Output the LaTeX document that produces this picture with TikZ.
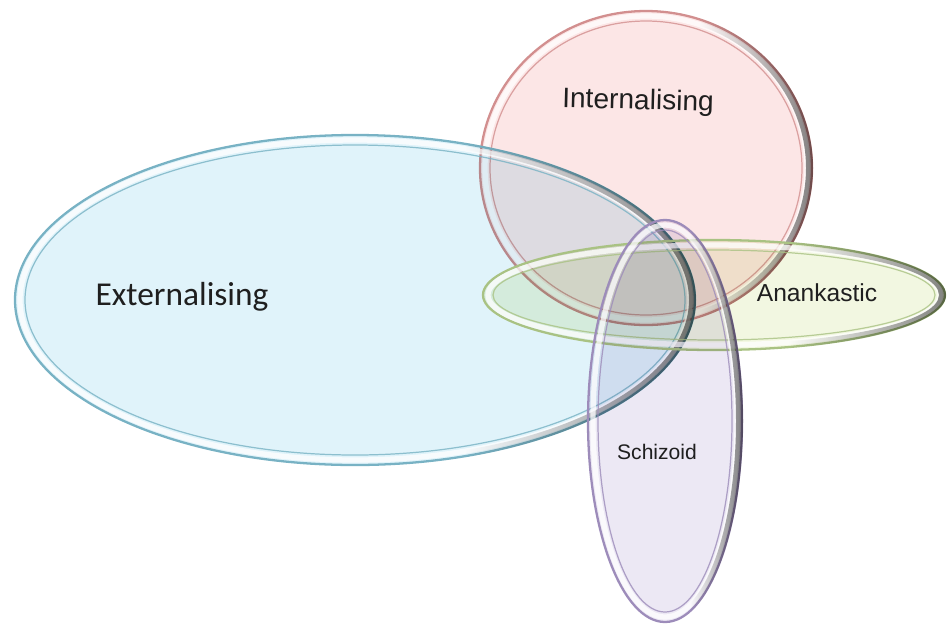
\documentclass[tikz,border=0pt]{standalone}
\usepackage{fontspec}
\setmainfont{Liberation Sans}
\newfontfamily\calibri{Carlito}
\usetikzlibrary{shapes.geometric}

\definecolor{extfill}{HTML}{E0F3FA}
\definecolor{extline}{HTML}{78B2C4}
\definecolor{intfill}{HTML}{FCE6E6}
\definecolor{intline}{HTML}{D28F8F}
\definecolor{anafill}{HTML}{F2F7E1}
\definecolor{analine}{HTML}{A9C283}
\definecolor{schfill}{HTML}{ECE8F4}
\definecolor{schline}{HTML}{9D8CBA}

% dark bevel on the right-hand side of each ring
\pgfdeclarehorizontalshading{rimshade}{100bp}{color(0bp)=(white); color(58bp)=(white); color(75bp)=(black!48); color(100bp)=(black!48)}

\tikzset{
  tint/.style={blend mode=multiply},
  blob/.style={line width=1.3pt},
  glint/.style={draw=white, line width=3pt, opacity=0.75},
  seam/.style={line width=0.7pt, opacity=0.8},
  rim/.style={even odd rule, shading=rimshade},
  lbl/.style={text=black!88, inner sep=0pt},
}

\begin{document}
\begin{tikzpicture}[x=0.02cm, y=-0.02cm]
  \useasboundingbox (0,0) rectangle (950,623);

  % internalising
  \begin{scope}[tint]
    \fill[intfill] (646,168) ellipse [x radius=166, y radius=157];
  \end{scope}
  \draw[blob, draw=intline] (646,168) ellipse [x radius=166, y radius=157];
  \draw[glint] (646,168) ellipse [x radius=161, y radius=152];
  \draw[seam, intline] (646,168) ellipse [x radius=156, y radius=147];
  \begin{scope}[tint]
    \shade[rim] (646,168) ellipse [x radius=167, y radius=158] (646,168) ellipse [x radius=160, y radius=151];
  \end{scope}

  % externalising
  \begin{scope}[tint]
    \fill[extfill] (355,300) ellipse [x radius=340, y radius=165];
  \end{scope}
  \draw[blob, draw=extline] (355,300) ellipse [x radius=340, y radius=165];
  \draw[glint] (355,300) ellipse [x radius=335, y radius=160];
  \draw[seam, extline] (355,300) ellipse [x radius=330, y radius=155];
  \begin{scope}[tint]
    \shade[rim] (355,300) ellipse [x radius=341, y radius=166] (355,300) ellipse [x radius=334, y radius=159];
  \end{scope}

  % anankastic
  \begin{scope}[tint]
    \fill[anafill] (714,295) ellipse [x radius=231, y radius=55];
  \end{scope}
  \draw[blob, draw=analine] (714,295) ellipse [x radius=231, y radius=55];
  \draw[glint] (714,295) ellipse [x radius=226, y radius=50];
  \draw[seam, analine] (714,295) ellipse [x radius=221, y radius=45];
  \begin{scope}[tint]
    \shade[rim] (714,295) ellipse [x radius=232, y radius=56] (714,295) ellipse [x radius=225, y radius=49];
  \end{scope}

  % schizoid
  \begin{scope}[tint]
    \fill[schfill] (665,421) ellipse [x radius=77, y radius=201];
  \end{scope}
  \draw[blob, draw=schline] (665,421) ellipse [x radius=77, y radius=201];
  \draw[glint] (665,421) ellipse [x radius=72, y radius=196];
  \draw[seam, schline] (665,421) ellipse [x radius=67, y radius=191];
  \begin{scope}[tint]
    \shade[rim] (665,421) ellipse [x radius=78, y radius=202] (665,421) ellipse [x radius=71, y radius=195];
  \end{scope}

  % labels
  \node[lbl, font=\calibri\fontsize{19}{22}\selectfont] at (182,297) (ext) {Externalising};
  \node[lbl, font=\fontsize{16}{19}\selectfont, rotate=-1.5] at (638,102) (int) {Internalising};
  \node[lbl, font=\fontsize{14}{17}\selectfont] at (817,293) (ana) {Anankastic};
  \node[lbl, font=\fontsize{12}{14}\selectfont] at (657,452) (sch) {Schizoid};
\end{tikzpicture}
\end{document}
